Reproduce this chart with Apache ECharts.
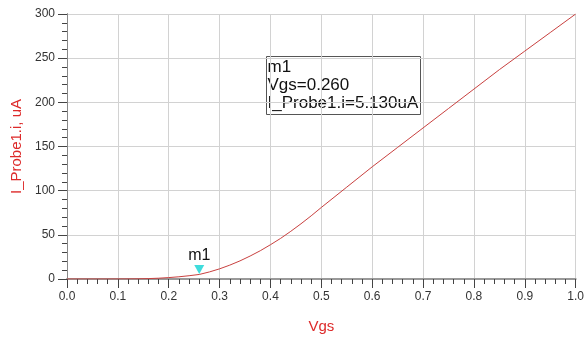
<!DOCTYPE html>
<html>
<head>
<meta charset="utf-8">
<style>
  html, body { margin: 0; padding: 0; background: #fff; }
  #chart { width: 587px; height: 339px; }
</style>
<script src="https://cdn.jsdelivr.net/npm/echarts@6/dist/echarts.min.js"></script>
</head>
<body>
<div id="chart"></div>
<script>
// Gate voltage sweep (V) and probe current (uA)
const vgs = [0.00, 0.02, 0.04, 0.06, 0.08, 0.10, 0.12, 0.14, 0.16, 0.18,
             0.20, 0.22, 0.24, 0.26, 0.28, 0.30, 0.32, 0.34, 0.36, 0.38,
             0.40, 0.42, 0.44, 0.46, 0.48, 0.50, 0.55, 0.60, 0.65, 0.70,
             0.75, 0.80, 0.85, 0.90, 0.95, 1.00];
const probeCurrent = [0, 0, 0, 0, 0, 0.05, 0.1, 0.2, 0.45, 0.9,
                      1.6, 2.5, 3.7, 5.13, 8.0, 11.5, 15.7, 20.5, 26.0, 32.0,
                      38.8, 46.0, 54.0, 62.5, 71.5, 81, 104, 127, 149, 171,
                      193, 215, 237, 258, 279, 300];

// Marker m1
const markerName = 'm1';
const markerVgs = 0.26;
const markerCurrent = 5.13;

// Axis ranges
const xTicks = { min: 0, max: 1, interval: 0.1 };
const yTicks = { min: 0, max: 300, interval: 50 };

const font = 'Liberation Sans, Arial, sans-serif';
const titleRed = '#dd2a2a';
const curveRed = '#c8403f';

const chart = echarts.init(document.getElementById('chart'), null, { renderer: 'canvas' });

chart.setOption({
  animation: false,
  backgroundColor: '#ffffff',
  grid: { left: 67, right: 7, top: 14, bottom: 59 },
  xAxis: [{
    type: 'value',
    min: xTicks.min, max: xTicks.max, interval: xTicks.interval,
    name: 'Vgs',
    nameLocation: 'middle',
    nameGap: 40,
    nameTextStyle: { color: titleRed, fontFamily: font, fontSize: 15 },
    axisLine: { show: true, onZero: false, lineStyle: { color: '#444', width: 1 } },
    axisTick: { show: true, length: 9, lineStyle: { color: '#444' } },
    minorTick: { show: true, splitNumber: 5, length: 5, lineStyle: { color: '#444' } },
    axisLabel: { color: '#333', fontFamily: font, fontSize: 12, margin: 12,
                 formatter: v => v.toFixed(1) },
    splitLine: { show: true, lineStyle: { color: '#d2d2d2', width: 1 } }
  }, {
    type: 'value', position: 'top',
    min: xTicks.min, max: xTicks.max,
    axisLine: { show: true, lineStyle: { color: '#999', width: 2 } },
    axisTick: { show: false }, axisLabel: { show: false }, splitLine: { show: false }
  }],
  yAxis: [{
    type: 'value',
    min: yTicks.min, max: yTicks.max, interval: yTicks.interval,
    name: 'I_Probe1.i, uA',
    nameLocation: 'middle',
    nameGap: 43,
    nameTextStyle: { color: titleRed, fontFamily: font, fontSize: 15 },
    axisLine: { show: true, onZero: false, lineStyle: { color: '#444', width: 1 } },
    axisTick: { show: true, length: 9, lineStyle: { color: '#444' } },
    minorTick: { show: true, splitNumber: 5, length: 5, lineStyle: { color: '#444' } },
    axisLabel: { color: '#333', fontFamily: font, fontSize: 12, margin: 12 },
    splitLine: { show: true, lineStyle: { color: '#d2d2d2', width: 1 } }
  }, {
    type: 'value', position: 'right',
    min: yTicks.min, max: yTicks.max,
    axisLine: { show: true, lineStyle: { color: '#888', width: 1 } },
    axisTick: { show: false }, axisLabel: { show: false }, splitLine: { show: false }
  }],
  series: [{
    type: 'line',
    data: vgs.map((v, i) => [v, probeCurrent[i]]),
    showSymbol: false,
    lineStyle: { color: curveRed, width: 1 },
    z: 3,
    markPoint: {
      symbol: 'triangle',
      symbolSize: [10, 9],
      symbolRotate: 180,
      symbolOffset: [0, -5],
      itemStyle: { color: '#3fdcdc' },
      label: {
        show: true, position: 'top', distance: 1,
        color: '#111', fontFamily: font, fontSize: 16,
        formatter: markerName
      },
      data: [{ coord: [markerVgs, markerCurrent], value: markerCurrent }]
    }
  }],
  graphic: [{
    type: 'group',
    left: 266, top: 56,
    children: [{
      type: 'rect',
      shape: { x: 0, y: 0, width: 154, height: 58 },
      style: { fill: 'transparent', stroke: '#555', lineWidth: 1 }
    }, {
      type: 'text',
      left: 1, top: 2,
      style: {
        text: markerName + '\nVgs=' + markerVgs.toFixed(3) +
              '\nI_Probe1.i=' + markerCurrent.toFixed(3) + 'uA',
        fill: '#111',
        font: '17px ' + font,
        lineHeight: 18
      }
    }]
  }]
});
</script>
</body>
</html>
